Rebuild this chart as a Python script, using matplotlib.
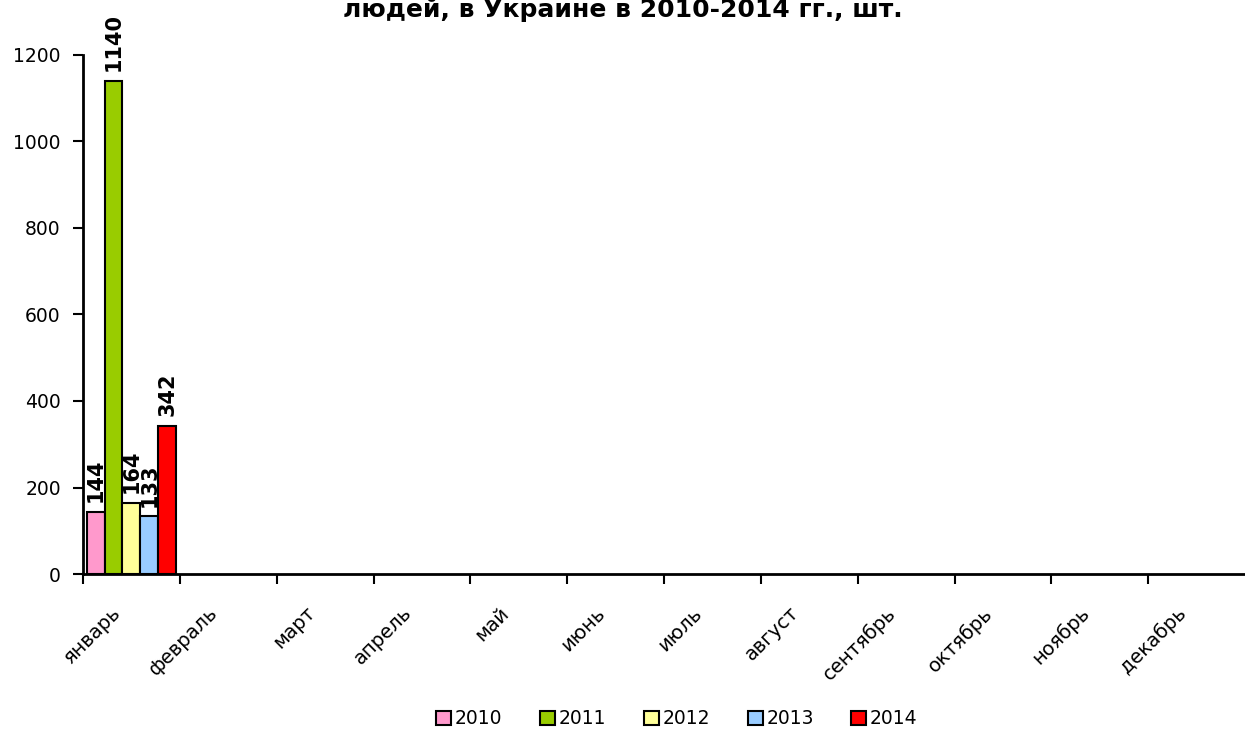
import numpy as np
import matplotlib
matplotlib.use('Agg')
from matplotlib import pyplot as plt

months = ['январь', 'февраль', 'март', 'апрель', 'май', 'июнь',
          'июль', 'август', 'сентябрь', 'октябрь', 'ноябрь', 'декабрь']
years = ['2010', '2011', '2012', '2013', '2014']
nan = np.nan
values_2010 = [144, nan, nan, nan, nan, nan, nan, nan, nan, nan, nan, nan]
values_2011 = [1140, nan, nan, nan, nan, nan, nan, nan, nan, nan, nan, nan]
values_2012 = [164, nan, nan, nan, nan, nan, nan, nan, nan, nan, nan, nan]
values_2013 = [133, nan, nan, nan, nan, nan, nan, nan, nan, nan, nan, nan]
values_2014 = [342, nan, nan, nan, nan, nan, nan, nan, nan, nan, nan, nan]
colors = ['#FF99CC', '#99CC00', '#FFFF99', '#99CCFF', '#FF0000']
title = 'людей, в Украине в 2010-2014 гг., шт.'

plt.rcParams['font.family'] = ['DejaVu Sans']

fig = plt.figure(figsize=(12.45, 7.31), dpi=100)
ax = fig.add_axes([83 / 1245, 1 - 574 / 731, 1 - 83 / 1245, (574 - 55) / 731])

series = [values_2010, values_2011, values_2012, values_2013, values_2014]
bar_w = 0.185
x = np.arange(len(months)) + 0.5
for i, (vals, col) in enumerate(zip(series, colors)):
    pos = x + (i - 2) * bar_w
    ax.bar(pos, vals, width=bar_w, color=col, edgecolor='black',
           linewidth=1.5, label=years[i], zorder=3)
    for p, v in zip(pos, vals):
        if not np.isnan(v):
            ax.annotate(f'{v:g}', (p, v), xytext=(0, 7), textcoords='offset points',
                        rotation=90, ha='center', va='bottom',
                        fontsize=15, fontweight='bold', annotation_clip=False)

ax.set_xlim(0, 12)
ax.set_ylim(0, 1200)
ax.set_yticks(range(0, 1201, 200))
ax.set_xticks(range(0, 12))
ax.set_xticklabels([])

# month names sit a bit left of the category centre, like in Excel
for xc, m in zip(x, months):
    ax.annotate(m, (xc, 0), xycoords=('data', 'axes fraction'),
                xytext=(-9.5, -26), textcoords='offset points',
                rotation=45, ha='right', va='center', rotation_mode='anchor',
                fontsize=14, annotation_clip=False)

ax.tick_params(axis='x', length=7, width=1.5, direction='out')
ax.tick_params(axis='y', length=7, width=1.5, labelsize=13.5, pad=9)
for s in ['top', 'right']:
    ax.spines[s].set_visible(False)
for s in ['left', 'bottom']:
    ax.spines[s].set_linewidth(2)
    ax.spines[s].set_zorder(4)

fig.text(0.5, 1 - 17 / 731, title, ha='center', va='baseline',
         fontsize=18, fontweight='bold')

fig.legend(loc='center', bbox_to_anchor=(677 / 1245, 1 - 719 / 731),
           ncol=5, frameon=False, fontsize=13.5, handlelength=0.8,
           handleheight=0.75, handletextpad=0.2, columnspacing=2.0,
           borderaxespad=0)

fig.savefig('out.png', dpi=100)
